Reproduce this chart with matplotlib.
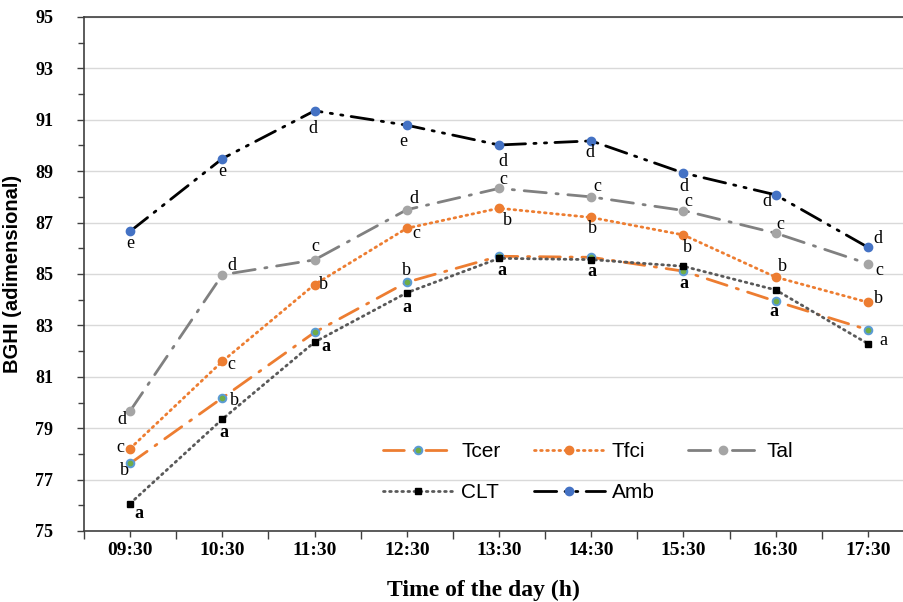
import matplotlib
matplotlib.use("Agg")
import matplotlib.pyplot as plt
from matplotlib.ticker import FixedLocator, MultipleLocator

# ---------------- data ----------------
times = ["09:30", "10:30", "11:30", "12:30", "13:30", "14:30", "15:30", "16:30", "17:30"]
tcer = [77.63, 80.18, 82.73, 84.68, 85.69, 85.65, 85.11, 83.94, 82.83]
tfci = [78.21, 81.60, 84.59, 86.78, 87.56, 87.20, 86.52, 84.88, 83.90]
tal = [79.67, 84.97, 85.55, 87.50, 88.33, 88.00, 87.47, 86.59, 85.40]
clt = [76.07, 79.35, 82.35, 84.27, 85.61, 85.56, 85.30, 84.38, 82.29]
amb = [86.66, 89.49, 91.35, 90.79, 90.02, 90.18, 88.93, 88.08, 86.04]

# significance letters (None = no label)
tcer_letters = ["b", "b", None, "b", None, None, "a", "a", None]
tfci_letters = ["c", "c", "b", "c", "b", "b", "b", "b", "b"]
tal_letters = ["d", "d", "c", "d", "c", "c", "c", "c", "c"]
clt_letters = ["a", "a", "a", "a", "a", "a", None, None, "a"]
amb_letters = ["e", "e", "d", "e", "d", "d", "d", "d", "d"]

yticks = [75, 77, 79, 81, 83, 85, 87, 89, 91, 93, 95]

# ---------------- styles / layout ----------------
# label offsets in pixels (dx, dy) relative to the marker
tcer_off = [(-6, -7), (12, -3), None, (0, 12), None, None, (0, -12), (-2, -10), None]
tfci_off = [(-10, 1), (9, -3), (9, 0), (10, -5), (8, -12), (1, -11), (4, -13), (7, 11), (11, 4)]
tal_off = [(-8, -9), (10, 9), (1, 13), (7, 11), (4, 9), (6, 10), (5, 9), (5, 9), (11, -7)]
clt_off = [(9, -10), (2, -13), (11, -4), (0, -15), (3, -12), (1, -12), None, None, (15, 3)]
amb_off = [(0, -12), (0, -13), (-2, -18), (-3, -16), (4, -17), (-1, -12), (0, -14), (-9, -7), (10, 9)]
tcer_bold = [False, False, False, False, False, False, True, True, False]
tfci_bold = [False] * 9
tal_bold = [False] * 9
clt_bold = [True, True, True, True, True, True, False, False, False]
amb_bold = [False] * 9

W, H = 904, 602
fig = plt.figure(figsize=(W / 100, H / 100), dpi=100)
ax_left, ax_right, ax_top, ax_bottom = 84, 914, 17, 531
ax = fig.add_axes([ax_left / W, (H - ax_bottom) / H,
                   (ax_right - ax_left) / W, (ax_bottom - ax_top) / H])

x = list(range(len(times)))
ORANGE = "#ED7D31"
PX = 72 / 100  # points per pixel

series = [
    dict(y=tcer, name="Tcer", color=ORANGE, ls=(0, (7.5, 3.5, 0.8, 3.5)), lw=2.0,
         marker="o", mfc="#70AD47", mec="#5B9BD5", ms=5.5, mew=1.4,
         letters=tcer_letters, off=tcer_off, bold=tcer_bold),
    dict(y=tfci, name="Tfci", color=ORANGE, ls=(0, (0.6, 1.6)), lw=2.0,
         marker="o", mfc=ORANGE, mec=ORANGE, ms=6, mew=1,
         letters=tfci_letters, off=tfci_off, bold=tfci_bold),
    dict(y=tal, name="Tal", color="#808080", ls=(0, (8, 3.5, 0.8, 3.5)), lw=2.0,
         marker="o", mfc="#A5A5A5", mec="#A5A5A5", ms=6, mew=1,
         letters=tal_letters, off=tal_off, bold=tal_bold),
    dict(y=clt, name="CLT", color="#595959", ls=(0, (0.6, 1.6)), lw=2.0,
         marker="s", mfc="black", mec="black", ms=5, mew=1,
         letters=clt_letters, off=clt_off, bold=clt_bold),
    dict(y=amb, name="Amb", color="black", ls=(0, (8, 3, 0.8, 3, 0.8, 3)), lw=2.0,
         marker="o", mfc="#4472C4", mec="#4472C4", ms=6, mew=1,
         letters=amb_letters, off=amb_off, bold=amb_bold),
]

handles = {}
for s in series:
    ln, = ax.plot(x, s["y"], color=s["color"], lw=s["lw"], linestyle=s["ls"],
                  marker=s["marker"], mfc=s["mfc"], mec=s["mec"], ms=s["ms"],
                  mew=s["mew"], dash_capstyle="round", label=s["name"], zorder=3)
    handles[s["name"]] = ln
    for i, (lt, off, b) in enumerate(zip(s["letters"], s["off"], s["bold"])):
        if lt is None:
            continue
        ax.annotate(lt, (x[i], s["y"][i]), xytext=(off[0] * PX, off[1] * PX),
                    textcoords="offset points", ha="center", va="center",
                    fontsize=13, family="Liberation Serif",
                    fontweight="bold" if b else "normal", color="black", zorder=4)

ax.set_xlim(-0.5, len(times) - 0.5)
ax.set_ylim(75, 95)

ax.xaxis.set_major_locator(FixedLocator(x))
ax.set_xticklabels(times)
ax.xaxis.set_minor_locator(FixedLocator([i - 0.5 for i in range(len(times) + 1)]))
ax.tick_params(axis="x", which="major", length=4, width=1, direction="out", pad=4,
               labelsize=14, colors="#404040", labelcolor="black")
ax.tick_params(axis="x", which="minor", length=6, width=1, direction="out", colors="#404040")
for t in ax.get_xticklabels():
    t.set_fontfamily("Liberation Serif")
    t.set_fontweight("bold")

ax.set_yticks(yticks)
ax.set_yticklabels([str(v) for v in yticks])
ax.yaxis.set_minor_locator(MultipleLocator(1))
ax.tick_params(axis="y", which="major", length=5, width=1, direction="out", pad=17,
               labelsize=13, colors="#404040", labelcolor="black")
ax.tick_params(axis="y", which="minor", length=4, width=1, direction="out", colors="#404040")
for t in ax.get_yticklabels():
    t.set_fontfamily("Liberation Serif")
    t.set_fontweight("bold")

ax.grid(axis="y", which="major", color="#D9D9D9", lw=1, zorder=0)
ax.set_axisbelow(True)
for sp in ["left", "bottom", "top"]:
    ax.spines[sp].set_color("#404040")
    ax.spines[sp].set_linewidth(1.2)
ax.spines["right"].set_visible(False)

ax.set_ylabel("BGHI (adimensional)", fontsize=14.5, fontweight="bold",
              family="Liberation Sans")
ax.yaxis.set_label_coords((22 - ax_left) / (ax_right - ax_left), 0.5)
ax.set_xlabel("Time of the day (h)", fontsize=17, fontweight="bold",
              family="Liberation Serif", va="top")
ax.xaxis.set_label_coords((483 - ax_left) / (ax_right - ax_left),
                          (ax_bottom - 580) / (ax_bottom - ax_top))

# legend filled column-wise -> rows read: Tcer Tfci Tal / CLT Amb
order = ["Tcer", "CLT", "Tfci", "Amb", "Tal"]
leg = ax.legend([handles[n] for n in order], order, ncol=3, frameon=False,
                loc="upper left",
                bbox_to_anchor=((383 - ax_left) / (ax_right - ax_left),
                                (ax_bottom - 442) / (ax_bottom - ax_top)),
                borderpad=0, borderaxespad=0, handlelength=3.4, handletextpad=0.35,
                columnspacing=1.6, labelspacing=1.05, numpoints=1,
                prop={"family": "Liberation Sans", "size": 15})

fig.savefig("out.png", dpi=100)
